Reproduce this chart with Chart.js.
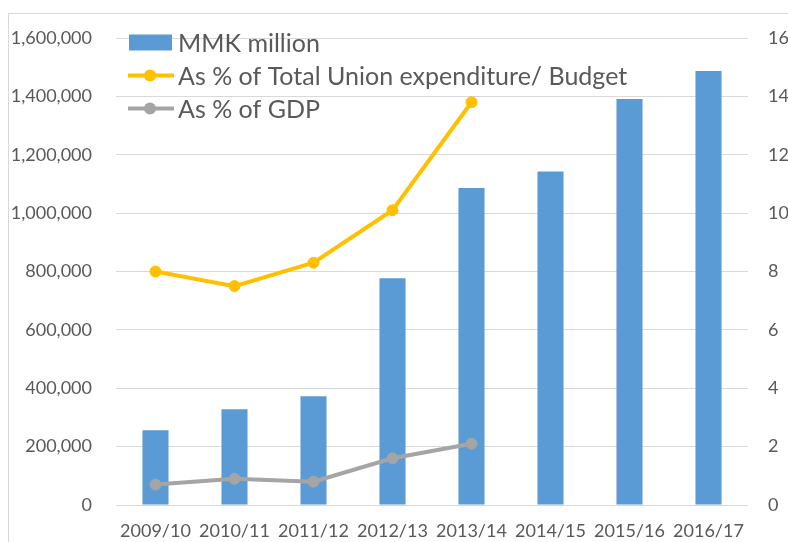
<!DOCTYPE html>
<html>
<head>
<meta charset="utf-8">
<script src="https://cdn.jsdelivr.net/npm/chart.js@4/dist/chart.umd.min.js"></script>
<style>
  html, body { margin: 0; padding: 0; background: #fff; }
  #wrap { width: 788px; height: 542px; position: relative; }
</style>
</head>
<body>
<div id="wrap"><canvas id="c" width="788" height="542"></canvas></div>
<script>
// Fiscal years
const categories = ['2009/10', '2010/11', '2011/12', '2012/13', '2013/14', '2014/15', '2015/16', '2016/17'];
// Spending in MMK million (left axis)
const mmkMillion = [256000, 328000, 373000, 777000, 1086000, 1143000, 1391000, 1487000];
// Share of total Union expenditure / budget, % (right axis)
const pctBudget = [8.0, 7.5, 8.3, 10.1, 13.8, null, null, null];
// Share of GDP, % (right axis)
const pctGdp = [0.7, 0.9, 0.8, 1.6, 2.1, null, null, null];
// Series names
const seriesNames = ['MMK million', 'As % of Total Union expenditure/ Budget', 'As % of GDP'];

const BLUE = '#5B9BD5', ORANGE = '#FFC000', GREY = '#A5A5A5';
const TEXT = '#595959', GRID = '#D9D9D9';
const FONT = 'Lato, "Open Sans", sans-serif';

// Outer frame of the chart
const framePlugin = {
  id: 'frame',
  beforeDraw(chart) {
    const ctx = chart.ctx;
    ctx.save();
    ctx.strokeStyle = GRID;
    ctx.lineWidth = 1;
    ctx.strokeRect(8.5, 13.5, 900, 700);
    ctx.restore();
  }
};

// Legend laid over the top-left of the plot
const overlayLegend = {
  id: 'overlayLegend',
  afterDraw(chart) {
    const ctx = chart.ctx;
    const x0 = 129, textX = 178;
    const rows = [42.5, 75.5, 108.5];
    ctx.save();
    ctx.font = '25px ' + FONT;
    ctx.textBaseline = 'middle';
    chart.data.datasets.forEach((ds, i) => {
      const y = rows[i];
      if (ds.type === 'bar') {
        ctx.fillStyle = ds.backgroundColor;
        ctx.fillRect(x0, y - 8, 43, 16);
      } else {
        ctx.strokeStyle = ds.borderColor;
        ctx.lineWidth = 4;
        ctx.beginPath();
        ctx.moveTo(x0 - 1, y);
        ctx.lineTo(x0 + 45, y);
        ctx.stroke();
        ctx.fillStyle = ds.borderColor;
        ctx.beginPath();
        ctx.arc(x0 + 21, y, 6, 0, Math.PI * 2);
        ctx.fill();
      }
      ctx.fillStyle = TEXT;
      ctx.fillText(ds.label, textX, y + 1);
    });
    ctx.restore();
  }
};

const lineStyle = (color) => ({
  borderColor: color,
  backgroundColor: color,
  borderWidth: 4,
  pointRadius: 5.5,
  pointHoverRadius: 5.5,
  pointBorderWidth: 1,
  pointBackgroundColor: color,
  pointBorderColor: color,
  tension: 0,
  spanGaps: false
});

new Chart(document.getElementById('c'), {
  data: {
    labels: categories,
    datasets: [
      {
        type: 'bar', label: seriesNames[0], data: mmkMillion, yAxisID: 'y',
        backgroundColor: BLUE, borderWidth: 0,
        categoryPercentage: 1, barPercentage: 0.33, order: 3
      },
      Object.assign({ type: 'line', label: seriesNames[1], data: pctBudget, yAxisID: 'y1', order: 1 }, lineStyle(ORANGE)),
      Object.assign({ type: 'line', label: seriesNames[2], data: pctGdp, yAxisID: 'y1', order: 2 }, lineStyle(GREY))
    ]
  },
  options: {
    responsive: false,
    animation: false,
    layout: { padding: { top: 38, left: 0, right: 0, bottom: 0 } },
    plugins: { legend: { display: false }, tooltip: { enabled: false } },
    scales: {
      x: {
        grid: { display: false, drawTicks: false },
        border: { display: false },
        ticks: { color: TEXT, font: { family: FONT, size: 18 }, padding: 15, maxRotation: 0 },
        afterFit(s) { s.height = 37; }
      },
      y: {
        position: 'left', min: 0, max: 1600000,
        grid: { color: GRID, lineWidth: 1, drawTicks: false },
        border: { display: false },
        ticks: {
          stepSize: 200000, color: TEXT, font: { family: FONT, size: 18 }, padding: 24,
          callback: (v) => v.toLocaleString('en-US')
        },
        afterFit(s) { s.width = 116; }
      },
      y1: {
        position: 'right', min: 0, max: 16,
        grid: { display: false, drawTicks: false },
        border: { display: false },
        ticks: { stepSize: 2, color: TEXT, font: { family: FONT, size: 18 }, padding: 20 },
        afterFit(s) { s.width = 40; }
      }
    }
  },
  plugins: [framePlugin, overlayLegend]
});
</script>
</body>
</html>
